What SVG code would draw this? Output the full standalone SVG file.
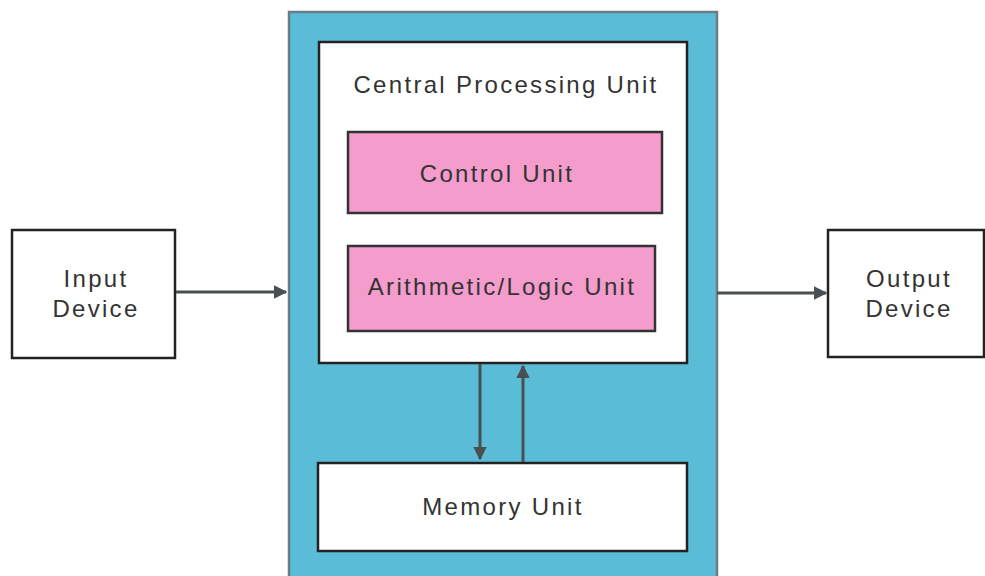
<svg xmlns="http://www.w3.org/2000/svg" width="985" height="576" viewBox="0 0 985 576">
<style>
.box{fill:#fff;stroke:#222;stroke-width:2.5}
.pink{fill:#f49ccb;stroke:#333;stroke-width:2.5}
.t{font-family:"Liberation Sans",Arial,sans-serif;font-size:24px;letter-spacing:2.3px;fill:#333;text-anchor:middle}
.c{stroke:#4a4f52;stroke-width:3;fill:none}
</style>
<defs>
<marker id="ah" viewBox="0 0 10 10" refX="9" refY="5" markerWidth="4.5" markerHeight="4.5" orient="auto" markerUnits="strokeWidth">
<path d="M0,0 L10,5 L0,10 z" fill="#4a4f52"/>
</marker>
</defs>
<rect width="985" height="576" fill="#fff"/>
<g id="cpu-frame">
<rect x="289" y="12" width="428" height="570" fill="#5bbcd8" stroke="#6a7c86" stroke-width="2.5"/>
</g>
<g id="cpu">
<rect class="box" x="319" y="42" width="368" height="321"/>
<text class="t" x="506" y="93">Central Processing Unit</text>
</g>
<g id="control-unit">
<rect class="pink" x="348" y="132" width="314" height="81"/>
<text class="t" x="497" y="182">Control Unit</text>
</g>
<g id="alu">
<rect class="pink" x="348" y="246" width="307" height="85"/>
<text class="t" x="502" y="295">Arithmetic/Logic Unit</text>
</g>
<g id="memory-unit">
<rect class="box" x="318" y="463" width="369" height="88"/>
<text class="t" x="503" y="515">Memory Unit</text>
</g>
<g id="input-device">
<rect class="box" x="12" y="230" width="163" height="128"/>
<text class="t" x="96" y="287">Input</text>
<text class="t" x="96" y="317">Device</text>
</g>
<g id="output-device">
<rect class="box" x="828" y="230" width="156" height="127"/>
<text class="t" x="909" y="287">Output</text>
<text class="t" x="909" y="317">Device</text>
</g>
<g id="connectors">
<line class="c" x1="176" y1="292" x2="286" y2="292" marker-end="url(#ah)"/>
<line class="c" x1="717" y1="293" x2="826" y2="293" marker-end="url(#ah)"/>
<line class="c" x1="480" y1="364" x2="480" y2="459" marker-end="url(#ah)"/>
<line class="c" x1="523" y1="462" x2="523" y2="366" marker-end="url(#ah)"/>
</g>
</svg>
